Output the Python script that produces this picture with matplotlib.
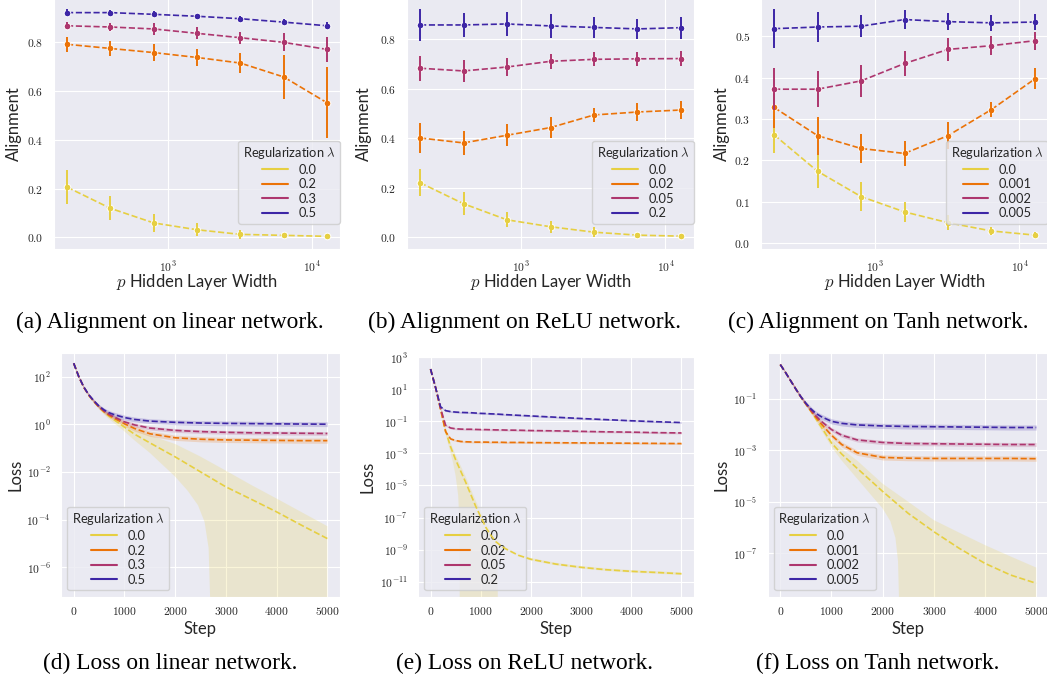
import numpy as np
import matplotlib
matplotlib.use("Agg")
import matplotlib.pyplot as plt
import seaborn as sns
from matplotlib.lines import Line2D
from matplotlib.ticker import FuncFormatter, FixedLocator, NullLocator

# ---------------- data ----------------
widths = [200, 400, 800, 1600, 3200, 6400, 12800]

# (a) linear network alignment
a_lams = ["0.0", "0.2", "0.3", "0.5"]
a_mean = [[0.206, 0.119, 0.059, 0.031, 0.012, 0.008, 0.004],
          [0.792, 0.775, 0.758, 0.738, 0.715, 0.658, 0.552],
          [0.868, 0.863, 0.855, 0.837, 0.819, 0.800, 0.771],
          [0.922, 0.922, 0.915, 0.907, 0.897, 0.883, 0.868]]
a_err = [[0.070, 0.050, 0.037, 0.027, 0.017, 0.008, 0.005],
         [0.030, 0.031, 0.035, 0.036, 0.042, 0.090, 0.145],
         [0.015, 0.016, 0.024, 0.025, 0.024, 0.037, 0.050],
         [0.014, 0.012, 0.012, 0.010, 0.010, 0.012, 0.014]]

# (b) ReLU network alignment
b_lams = ["0.0", "0.02", "0.05", "0.2"]
b_mean = [[0.220, 0.135, 0.070, 0.042, 0.020, 0.008, 0.004],
          [0.401, 0.381, 0.412, 0.443, 0.494, 0.506, 0.514],
          [0.683, 0.672, 0.688, 0.711, 0.719, 0.721, 0.722],
          [0.858, 0.858, 0.862, 0.854, 0.848, 0.842, 0.847]]
b_err = [[0.054, 0.047, 0.031, 0.025, 0.020, 0.008, 0.005],
         [0.059, 0.049, 0.044, 0.042, 0.029, 0.036, 0.035],
         [0.050, 0.046, 0.036, 0.031, 0.029, 0.029, 0.031],
         [0.063, 0.050, 0.047, 0.049, 0.044, 0.042, 0.044]]

# (c) Tanh network alignment
c_lams = ["0.0", "0.001", "0.002", "0.005"]
c_mean = [[0.262, 0.174, 0.113, 0.076, 0.050, 0.030, 0.020],
          [0.328, 0.260, 0.229, 0.217, 0.260, 0.323, 0.397],
          [0.372, 0.372, 0.392, 0.434, 0.468, 0.477, 0.489],
          [0.518, 0.522, 0.524, 0.540, 0.535, 0.532, 0.534]]
c_err = [[0.045, 0.040, 0.036, 0.024, 0.018, 0.010, 0.007],
         [0.050, 0.046, 0.035, 0.031, 0.032, 0.019, 0.025],
         [0.050, 0.044, 0.038, 0.031, 0.027, 0.023, 0.022],
         [0.047, 0.037, 0.026, 0.023, 0.021, 0.019, 0.019]]

# (d) linear network loss (log10 of loss)
d_steps = [0, 100, 200, 300, 400, 500, 600, 700, 800, 1000, 1200, 1500,
           2000, 2500, 3000, 3500, 4000, 4500, 5000]
d_mean = [[2.56, 2.0, 1.55, 1.21, 0.94, 0.70, 0.50, 0.33, 0.18, -0.12, -0.42, -0.78,
           -1.37, -2.0, -2.63, -3.15, -3.68, -4.25, -4.8],
          [2.56, 2.0, 1.55, 1.21, 0.95, 0.72, 0.53, 0.37, 0.25, 0.02, -0.18, -0.40,
           -0.57, -0.63, -0.66, -0.67, -0.68, -0.69, -0.69],
          [2.56, 2.0, 1.55, 1.22, 0.96, 0.73, 0.55, 0.41, 0.30, 0.10, -0.03, -0.16,
           -0.26, -0.31, -0.34, -0.36, -0.37, -0.38, -0.39],
          [2.56, 2.0, 1.56, 1.23, 0.98, 0.76, 0.60, 0.48, 0.40, 0.28, 0.20, 0.13,
           0.08, 0.05, 0.035, 0.025, 0.015, 0.007, 0.0]]
d_halfw = [None,
           [0.02, 0.03, 0.04, 0.05, 0.06, 0.07, 0.08, 0.09, 0.10, 0.11, 0.11, 0.11,
            0.11, 0.11, 0.11, 0.11, 0.11, 0.11, 0.11],
           [0.02, 0.03, 0.04, 0.05, 0.06, 0.07, 0.08, 0.08, 0.08, 0.08, 0.08, 0.08,
            0.08, 0.08, 0.08, 0.08, 0.08, 0.08, 0.08],
           [0.02, 0.03, 0.04, 0.05, 0.06, 0.07, 0.08, 0.09, 0.10, 0.10, 0.10, 0.10,
            0.10, 0.10, 0.10, 0.10, 0.10, 0.10, 0.10]]
d_y0_hi = [2.58, 2.02, 1.58, 1.25, 0.99, 0.77, 0.60, 0.45, 0.32, 0.02, -0.22, -0.47,
           -0.83, -1.36, -1.95, -2.55, -3.12, -3.70, -4.28]
d_y0_lo_steps = [0, 100, 200, 300, 400, 500, 600, 700, 800, 1000, 1200, 1500, 2000,
                 2250, 2450, 2580, 2660, 2700, 2710, 5000]
d_y0_lo = [2.54, 1.98, 1.52, 1.17, 0.89, 0.63, 0.40, 0.21, 0.04, -0.30, -0.68, -1.20,
           -2.20, -2.80, -3.40, -4.10, -5.20, -8.0, -np.inf, -np.inf]

# (e) ReLU network loss (log10)
e_steps = [0, 100, 200, 300, 400, 500, 600, 700, 800, 900, 1000, 1100, 1200, 1300,
           1400, 1500, 1750, 2000, 2500, 3000, 3500, 4000, 4500, 5000]
e_mean = [[2.25, 1.1, -0.25, -1.6, -2.6, -3.4, -4.1, -4.8, -5.55, -6.3, -6.95, -7.6,
           -8.1, -8.5, -8.75, -8.95, -9.35, -9.6, -9.9, -10.1, -10.25, -10.35, -10.42, -10.5],
          [2.25, 1.1, -0.25, -1.65, -2.1, -2.2, -2.26, -2.28, -2.29, -2.3, -2.3, -2.3,
           -2.31, -2.31, -2.31, -2.32, -2.32, -2.33, -2.34, -2.35, -2.36, -2.37, -2.38, -2.39],
          [2.25, 1.1, -0.2, -1.25, -1.42, -1.47, -1.49, -1.5, -1.5, -1.51, -1.52, -1.52,
           -1.53, -1.54, -1.54, -1.55, -1.56, -1.58, -1.6, -1.63, -1.66, -1.68, -1.71, -1.73],
          [2.25, 1.1, -0.1, -0.34, -0.4, -0.43, -0.45, -0.46, -0.47, -0.49, -0.51, -0.52,
           -0.54, -0.55, -0.57, -0.59, -0.63, -0.67, -0.75, -0.83, -0.9, -0.97, -1.03, -1.08]]
e_halfw = [None,
           [0.02, 0.03, 0.05, 0.06, 0.06, 0.06, 0.06, 0.06, 0.06, 0.06, 0.06, 0.06,
            0.06, 0.06, 0.06, 0.06, 0.06, 0.06, 0.06, 0.06, 0.06, 0.06, 0.06, 0.06],
           [0.02, 0.03, 0.05, 0.06, 0.06, 0.06, 0.06, 0.06, 0.06, 0.06, 0.06, 0.06,
            0.06, 0.06, 0.06, 0.06, 0.06, 0.06, 0.06, 0.06, 0.06, 0.06, 0.06, 0.06],
           [0.02, 0.03, 0.05, 0.05, 0.05, 0.05, 0.05, 0.05, 0.05, 0.05, 0.05, 0.05,
            0.05, 0.05, 0.05, 0.05, 0.05, 0.05, 0.05, 0.05, 0.05, 0.05, 0.05, 0.05]]
e_y0_hi = [2.27, 1.12, -0.2, -1.45, -2.35, -3.1, -3.77, -4.45, -5.2, -5.95, -6.6, -7.25,
           -7.8, -8.25, -8.6, -8.85, -9.27, -9.52, -9.82, -10.02, -10.17, -10.27, -10.34, -10.42]
e_y0_lo_steps = [0, 100, 200, 300, 400, 450, 500, 550, 580, 595, 1325, 1340, 1400, 1500,
                 1750, 2000, 2500, 3000, 3500, 4000, 4500, 5000]
e_y0_lo = [2.23, 1.08, -0.3, -1.8, -3.0, -3.6, -4.4, -5.6, -7.5, -np.inf, -np.inf, -9.6,
           -8.9, -9.05, -9.43, -9.68, -9.98, -10.18, -10.33, -10.43, -10.5, -10.58]

# (f) Tanh network loss (log10)
f_steps = [0, 100, 200, 300, 400, 500, 600, 700, 800, 1000, 1200, 1500,
           2000, 2500, 3000, 3500, 4000, 4500, 5000]
f_mean = [[0.32, 0.02, -0.3, -0.62, -0.93, -1.22, -1.5, -1.8, -2.1, -2.72, -3.15, -3.7,
           -4.6, -5.45, -6.16, -6.81, -7.39, -7.84, -8.16],
          [0.32, 0.02, -0.3, -0.62, -0.93, -1.21, -1.48, -1.74, -1.98, -2.42, -2.78, -3.1,
           -3.28, -3.31, -3.32, -3.32, -3.32, -3.32, -3.33],
          [0.32, 0.02, -0.3, -0.62, -0.93, -1.2, -1.45, -1.68, -1.88, -2.2, -2.42, -2.6,
           -2.7, -2.74, -2.75, -2.76, -2.77, -2.78, -2.78],
          [0.32, 0.02, -0.3, -0.62, -0.92, -1.18, -1.4, -1.58, -1.7, -1.88, -1.96, -2.02,
           -2.06, -2.08, -2.09, -2.1, -2.11, -2.12, -2.12]]
f_halfw = [None,
           [0.02, 0.03, 0.04, 0.05, 0.06, 0.07, 0.08, 0.09, 0.1, 0.1, 0.1, 0.1,
            0.1, 0.1, 0.1, 0.1, 0.1, 0.1, 0.1],
           [0.02, 0.03, 0.04, 0.05, 0.06, 0.07, 0.08, 0.08, 0.08, 0.08, 0.08, 0.08,
            0.08, 0.08, 0.08, 0.08, 0.08, 0.08, 0.08],
           [0.02, 0.03, 0.04, 0.05, 0.06, 0.07, 0.08, 0.09, 0.1, 0.1, 0.1, 0.1,
            0.1, 0.1, 0.1, 0.1, 0.1, 0.1, 0.1]]
f_y0_hi = [0.34, 0.04, -0.28, -0.6, -0.9, -1.18, -1.45, -1.72, -1.98, -2.55, -2.95, -3.4,
           -4.3, -5.0, -5.71, -6.2, -6.68, -7.12, -7.55]
f_y0_lo_steps = [0, 100, 200, 300, 400, 500, 600, 700, 800, 1000, 1200, 1500, 1800, 2000,
                 2150, 2250, 2300, 2320, 2330, 5000]
f_y0_lo = [0.3, 0.0, -0.32, -0.64, -0.96, -1.26, -1.55, -1.88, -2.22, -2.87, -3.4, -4.1,
           -4.8, -5.26, -5.75, -6.4, -7.3, -8.8, -np.inf, -np.inf]

captions = ["(a) Alignment on linear network.", "(b) Alignment on ReLU network.",
            "(c) Alignment on Tanh network.", "(d) Loss on linear network.",
            "(e) Loss on ReLU network.", "(f) Loss on Tanh network."]

# ---------------- style ----------------
sns.set_style("darkgrid")
plt.rcParams['font.family'] = ['Lato', 'DejaVu Sans']
plt.rcParams['mathtext.fontset'] = 'cm'

cmap = plt.get_cmap("CMRmap_r")
colors = [cmap(v) for v in np.linspace(0, 1, 6)[1:-1]]

W, H = 1047, 688
fig = plt.figure(figsize=(W / 100, H / 100), dpi=100)


def add_ax(l, t, r, b):
    return fig.add_axes([l / W, 1 - b / H, (r - l) / W, (b - t) / H])


fmt_dec = FuncFormatter(lambda v, p: f"${v:.1f}$")
fmt_int = FuncFormatter(lambda v, p: f"${int(round(v))}$")
fmt_pow = FuncFormatter(lambda v, p: f"$10^{{{int(round(np.log10(v)))}}}$")

TICK_FS = 8.3
LABEL_FS = 12
LEG_FS = 9.3


def style_common(ax, box, ylab_px, xlab_px, xpad):
    l, t, r, b = box
    ax.tick_params(axis='both', labelsize=TICK_FS, colors='.15')
    ax.tick_params(axis='x', pad=xpad)
    ax.tick_params(axis='y', pad=4)
    ax.yaxis.set_label_coords((ylab_px - l) / (r - l), 0.5)
    ax.xaxis.set_label_coords(0.5, -(xlab_px - b) / (b - t))


def top_panel(box, lams, means, errs, ylim, yticks, ylab_x):
    ax = add_ax(*box)
    for i in range(4):
        m = np.array(means[i]); e = np.array(errs[i])
        ax.plot(widths, m, ls='--', color=colors[i], lw=1.2, marker='o', ms=4.8,
                mec='white', mew=0.7, zorder=3 + i)
        ax.vlines(widths, m - e, m + e, color=colors[i], lw=1.4, zorder=3 + i)
    ax.set_xscale('log')
    ax.set_xlim(10 ** 2.2107, 10 ** 4.1973)
    ax.set_ylim(*ylim)
    ax.xaxis.set_major_locator(FixedLocator([1e3, 1e4]))
    ax.xaxis.set_minor_locator(NullLocator())
    ax.xaxis.set_major_formatter(fmt_pow)
    ax.yaxis.set_major_locator(FixedLocator(yticks))
    ax.yaxis.set_major_formatter(fmt_dec)
    ax.set_ylabel("Alignment", fontsize=LABEL_FS, va='center')
    ax.set_xlabel(r"$p$ Hidden Layer Width", fontsize=LABEL_FS, va='center')
    style_common(ax, box, ylab_x, 282.5, 3.6)
    handles = [Line2D([], [], color=colors[i], lw=1.5) for i in range(4)]
    l, t, r, b = box
    ax.legend(handles, lams, title=r"Regularization $\lambda$", fontsize=LEG_FS,
              title_fontsize=LEG_FS, labelspacing=0.2, loc='lower right',
              bbox_to_anchor=(1.0, (b - 224) / (b - t)), borderaxespad=0,
              borderpad=0.35, handlelength=2.0)
    return ax


def bottom_panel(box, lams, steps, means, halfw, y0_hi, lo_steps, y0_lo, ylim_log,
                 yticks_exp, ylab_x):
    ax = add_ax(*box)
    steps = np.array(steps)
    # yellow band: polygon made of upper edge and lower edge (own step grid)
    hi = 10 ** np.array(y0_hi)
    lo = 10 ** np.array(y0_lo)
    xs = np.concatenate([steps, np.array(lo_steps)[::-1]])
    ys = np.concatenate([hi, lo[::-1]])
    ys = np.where(ys <= 0, 1e-300, ys)
    ax.fill(xs, ys, color=colors[0], alpha=0.2, lw=0, zorder=2)
    for i in range(1, 4):
        m = np.array(means[i]); w = np.array(halfw[i])
        ax.fill_between(steps, 10 ** (m + w), 10 ** (m - w), color=colors[i],
                        alpha=0.2, lw=0, zorder=2 + i)
    for i in range(4):
        m = np.array(means[i])
        ax.plot(steps, 10 ** m, ls='--', color=colors[i], lw=1.2, zorder=6 + i)
    ax.set_yscale('log')
    ax.set_xlim(-250, 5250)
    ax.set_ylim(10 ** ylim_log[0], 10 ** ylim_log[1])
    ax.xaxis.set_major_locator(FixedLocator([0, 1000, 2000, 3000, 4000, 5000]))
    ax.xaxis.set_major_formatter(fmt_int)
    ax.yaxis.set_major_locator(FixedLocator([10.0 ** k for k in yticks_exp]))
    ax.yaxis.set_minor_locator(NullLocator())
    ax.yaxis.set_major_formatter(fmt_pow)
    ax.set_ylabel("Loss", fontsize=LABEL_FS, va='center')
    ax.set_xlabel("Step", fontsize=LABEL_FS, va='center')
    style_common(ax, box, ylab_x, 629, 2.8)
    handles = [Line2D([], [], color=colors[i], lw=1.5) for i in range(4)]
    ax.legend(handles, lams, title=r"Regularization $\lambda$", fontsize=LEG_FS,
              title_fontsize=LEG_FS, labelspacing=0.2, loc='lower left',
              borderpad=0.35, handlelength=2.0)
    return ax


top_panel((54, -2, 340, 249), a_lams, a_mean, a_err, (-0.048, 0.982),
          [0.0, 0.2, 0.4, 0.6, 0.8], 14)
top_panel((407, -2, 694, 249), b_lams, b_mean, b_err, (-0.048, 0.967),
          [0.0, 0.2, 0.4, 0.6, 0.8], 364)
top_panel((761, -2, 1048, 249), c_lams, c_mean, c_err, (-0.0135, 0.592),
          [0.0, 0.1, 0.2, 0.3, 0.4, 0.5], 722)

bottom_panel((61, 352.5, 340, 596.7), a_lams, d_steps, d_mean, d_halfw, d_y0_hi,
             d_y0_lo_steps, d_y0_lo, (-7.24, 3.01), [2, 0, -2, -4, -6], 15)
bottom_panel((418, 356.7, 694, 596.7), b_lams, e_steps, e_mean, e_halfw, e_y0_hi,
             e_y0_lo_steps, e_y0_lo, (-11.93, 3.02), [3, 1, -1, -3, -5, -7, -9, -11], 368)
bottom_panel((767.5, 352.7, 1049, 596.7), c_lams, f_steps, f_mean, f_halfw, f_y0_hi,
             f_y0_lo_steps, f_y0_lo, (-8.68, 0.78), [-1, -3, -5, -7], 722)

cap_pos = [(170, 322), (524, 322), (878, 322), (170, 663), (524, 663), (878, 663)]
for txt, (x, y) in zip(captions, cap_pos):
    fig.text(x / W, 1 - y / H, txt, ha='center', va='center', fontsize=16.8,
             family='Liberation Serif', color='black')

fig.savefig("out.png", dpi=100)
